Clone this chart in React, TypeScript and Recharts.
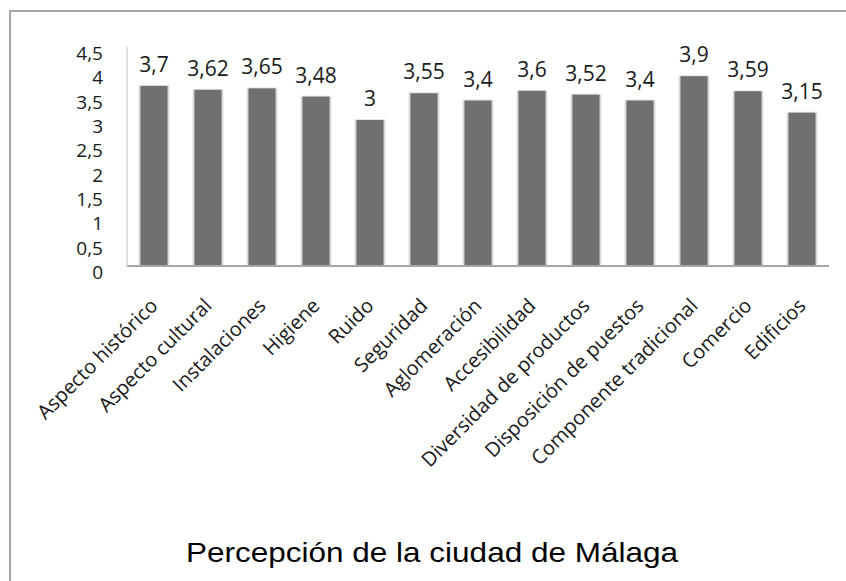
import React from 'react';
import { BarChart, Bar, XAxis, YAxis, LabelList } from 'recharts';

const categories = [
  'Aspecto histórico',
  'Aspecto cultural',
  'Instalaciones',
  'Higiene',
  'Ruido',
  'Seguridad',
  'Aglomeración',
  'Accesibilidad',
  'Diversidad de productos',
  'Disposición de puestos',
  'Componente tradicional',
  'Comercio',
  'Edificios',
];

const scores = [3.7, 3.62, 3.65, 3.48, 3, 3.55, 3.4, 3.6, 3.52, 3.4, 3.9, 3.59, 3.15];

const yTicks = [0, 0.5, 1, 1.5, 2, 2.5, 3, 3.5, 4, 4.5];

const chartTitle = 'Percepción de la ciudad de Málaga';

const chartData = categories.map((name, i) => ({ name, value: scores[i] }));

const labelFont = '"Open Sans", sans-serif';

// comma decimals, like the original spreadsheet
const fmt = (v: number) => String(v).replace('.', ',');

const YTick = ({ x, y, payload }: any) => (
  <text
    x={x}
    y={y + 6}
    textAnchor="end"
    dominantBaseline="central"
    fontFamily={labelFont}
    fontSize={19}
    fill="#1a1a1a"
  >
    {fmt(payload.value)}
  </text>
);

const XTick = ({ x, y, payload }: any) => (
  <text
    transform={`translate(${x + 5},${y + 33}) rotate(-45)`}
    textAnchor="end"
    fontFamily={labelFont}
    fontSize={20}
    fill="#1a1a1a"
  >
    {payload.value}
  </text>
);

// bar with the faint glow around it
const ShadowBar = (props: any) => {
  const { x, y, width, height } = props;
  if (height <= 0) return null;
  return (
    <g>
      <rect x={x - 2} y={y - 1} width={width + 4} height={height + 1} fill="#e6e6e6" />
      <rect x={x - 1} y={y} width={width + 2} height={height} fill="#cfcfcf" />
      <rect x={x} y={y} width={width} height={height} fill="#707070" />
    </g>
  );
};

const App: React.FC = () => {
  return (
    <div
      style={{
        position: 'absolute',
        left: 0,
        top: 0,
        width: 846,
        height: 581,
        background: '#fff',
        overflow: 'hidden',
      }}
    >
      <div
        style={{
          position: 'absolute',
          left: 9,
          top: 10,
          width: 900,
          height: 700,
          borderLeft: '2px solid #a6a6a6',
          borderTop: '2px solid #a6a6a6',
        }}
      />
      <div style={{ position: 'absolute', left: 0, top: 0 }}>
        <BarChart
          width={846}
          height={581}
          data={chartData}
          margin={{ top: 47, right: 17, left: 67, bottom: 0 }}
          barCategoryGap="25%"
        >
          <XAxis
            dataKey="name"
            interval={0}
            height={315}
            tickLine={false}
            axisLine={{ stroke: '#a6a6a6', strokeWidth: 2 }}
            tick={<XTick />}
          />
          <YAxis
            domain={[0, 4.5]}
            ticks={yTicks}
            width={60}
            tickLine={false}
            tickSize={0}
            tickMargin={24}
            axisLine={{ stroke: '#bdbdbd', strokeWidth: 1 }}
            tick={<YTick />}
          />
          <Bar dataKey="value" shape={<ShadowBar />} isAnimationActive={false}>
            <LabelList
              dataKey="value"
              position="top"
              offset={14}
              formatter={(v: any) => fmt(v)}
              style={{ fontFamily: labelFont, fontSize: 21, fill: '#1a1a1a' }}
            />
          </Bar>
        </BarChart>
      </div>
      <svg
        width={846}
        height={581}
        style={{ position: 'absolute', left: 0, top: 0, pointerEvents: 'none' }}
      >
        <text
          x={432}
          y={562}
          textAnchor="middle"
          textLength={492}
          lengthAdjust="spacingAndGlyphs"
          fontFamily='"Liberation Sans", Arial, sans-serif'
          fontSize={28}
          fill="#000"
        >
          {chartTitle}
        </text>
      </svg>
    </div>
  );
};

export default App;
